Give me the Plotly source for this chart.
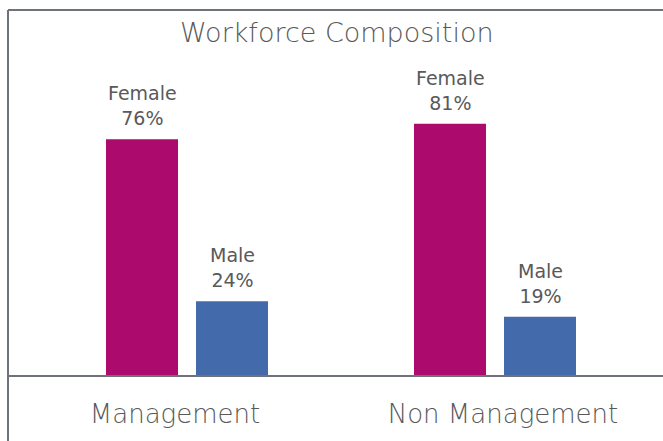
import plotly.graph_objects as go

categories = ["Management", "Non Management"]
female = [76, 81]
male = [24, 19]
series_names = ["Female", "Male"]

FEMALE_COLOR = "#AC0A6D"
MALE_COLOR = "#436AAA"
TEXT_COLOR = "#595959"
LINE_COLOR = "#6E737B"
FONT = "DejaVu Sans"

W, H = 663, 441
L, R, T, B = 8, 0, 10, 65
plot_w = W - L - R

PX_PER_CAT = 308.0          # pixel distance between category centres
r0 = -(187 - L) / PX_PER_CAT
r1 = r0 + plot_w / PX_PER_CAT

BAR_W = 72 / PX_PER_CAT
GAP = 9 / PX_PER_CAT
offsets = {"Female": -(BAR_W + GAP), "Male": GAP}
colors = {"Female": FEMALE_COLOR, "Male": MALE_COLOR}
label_shift = [-12 / PX_PER_CAT, 8 / PX_PER_CAT]   # category label nudges

xpos = list(range(len(categories)))

fig = go.Figure()
annotations = []
for name, vals in [("Female", female), ("Male", male)]:
    fig.add_trace(go.Bar(
        x=xpos, y=vals, name=name,
        width=BAR_W, offset=offsets[name],
        marker=dict(color=colors[name], line=dict(width=0)),
        hoverinfo="skip",
    ))
    for xi, v in zip(xpos, vals):
        annotations.append(dict(
            x=xi + offsets[name] + BAR_W / 2, y=v, xref="x", yref="y",
            text=f"{name}<br>{v}%", showarrow=False,
            xanchor="center", yanchor="bottom", yshift=8,
            font=dict(family=FONT, size=19, color=TEXT_COLOR),
        ))

annotations.append(dict(
    text="Workforce Composition", xref="paper", yref="paper",
    x=(337 - L) / plot_w, y=1 - (33 - T) / (H - T - B), xanchor="center", yanchor="middle",
    showarrow=False, font=dict(family=FONT, size=27, color=TEXT_COLOR, weight=200),
))

fig.update_layout(
    width=W, height=H,
    margin=dict(l=L, r=R, t=T, b=B),
    paper_bgcolor="white", plot_bgcolor="white",
    barmode="overlay",
    showlegend=False,
    font=dict(family=FONT, color=TEXT_COLOR),
    xaxis=dict(
        range=[r0, r1], tickmode="array",
        tickvals=[x + s for x, s in zip(xpos, label_shift)], ticktext=categories,
        tickfont=dict(family=FONT, size=26, color=TEXT_COLOR, weight=200),
        showgrid=False, zeroline=False, showline=False, ticks="",
        ticklabelstandoff=20, fixedrange=True,
    ),
    yaxis=dict(range=[0, 117.5], visible=False, fixedrange=True),
    annotations=annotations,
    shapes=[
        dict(type="line", xref="paper", yref="paper", x0=0, x1=1.01, y0=1, y1=1,
             line=dict(color=LINE_COLOR, width=2)),
        dict(type="line", xref="paper", yref="paper", x0=0, x1=1.01, y0=0, y1=0,
             line=dict(color=LINE_COLOR, width=2)),
        dict(type="line", xref="paper", yref="paper", x0=0, x1=0, y0=1, y1=-0.3,
             line=dict(color=LINE_COLOR, width=2)),
    ],
)

fig.write_html(
    "out.html",
    config={"displayModeBar": False},
    post_script="document.body.style.margin='0';document.body.style.overflow='hidden';",
)
